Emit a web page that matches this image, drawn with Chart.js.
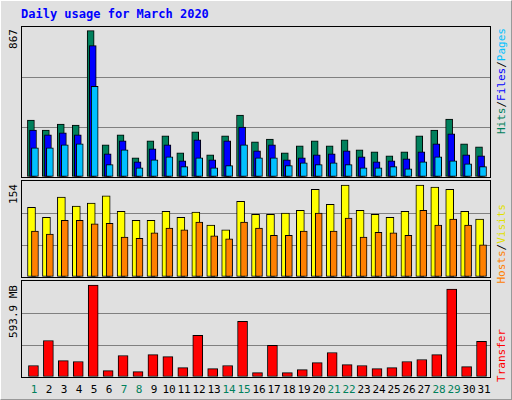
<!DOCTYPE html>
<html>
<head>
<meta charset="utf-8">
<script src="https://cdn.jsdelivr.net/npm/chart.js@4"></script>
<style>
  body { margin: 0; background: #e0e0e0; }
  #wrap { position: relative; width: 510px; height: 398px; border: 1px solid #fff; border-right-color: #999; border-bottom-color: #999; font-family: "DejaVu Sans Mono", monospace; }
  .panel { position: absolute; left: 20px; width: 470px; border: 1px solid #000; box-sizing: border-box; }
  .panel canvas { display: block; }
  .vlab { position: absolute; writing-mode: vertical-rl; transform: rotate(180deg); font-size: 11px; white-space: nowrap; }
  .xl { position: absolute; top: 382px; font-size: 11px; width: 20px; text-align: center; }
</style>
</head>
<body>
<div id="wrap">
  <div style="position:absolute;left:20px;top:6px;color:#0000ff;font-weight:bold;font-size:12px;">Daily usage for March 2020</div>
  <div class="panel" style="top:25px;height:152px;"><canvas id="c1"></canvas></div>
  <div class="panel" style="top:179px;height:98px;"><canvas id="c2"></canvas></div>
  <div class="panel" style="top:279px;height:98px;"><canvas id="c3"></canvas></div>
  <div class="vlab" style="left:6px;top:28px;">867</div>
  <div class="vlab" style="left:6px;top:183px;">154</div>
  <div class="vlab" style="left:6px;top:284px;">593.9 MB</div>
  <div class="vlab" style="left:494px;top:27px;"><span style="color:#00805c">Hits</span>/<span style="color:#0000ff">Files</span>/<span style="color:#00c0ff">Pages</span></div>
  <div class="vlab" style="left:494px;top:203px;"><span style="color:#ff8000">Hosts</span>/<span style="color:#e0e000">Visits</span></div>
  <div class="vlab" style="left:494px;top:328px;color:#ff0000;">Transfer</div>
  <div id="xlabels"></div>
</div>
<script>
const days = Array.from({ length: 31 }, (_, i) => i + 1);
const weekendDays = [1, 7, 8, 14, 15, 21, 22, 28, 29];

const hits = [337, 278, 314, 308, 867, 190, 249, 114, 214, 243, 143, 267, 131, 243, 367, 208, 225, 143, 184, 214, 184, 220, 161, 149, 125, 149, 243, 278, 343, 196, 178];
const files = [278, 249, 261, 249, 778, 137, 214, 90, 167, 190, 96, 220, 102, 214, 296, 155, 190, 102, 114, 131, 137, 155, 120, 90, 96, 108, 149, 196, 255, 131, 125];
const pages = [172, 172, 190, 196, 537, 73, 161, 55, 102, 120, 61, 114, 55, 67, 190, 114, 114, 67, 84, 73, 84, 73, 55, 55, 61, 49, 90, 120, 96, 78, 61];
const visits = [117, 100, 134, 119, 124, 136, 110, 95, 95, 110, 100, 109, 87, 79, 127, 105, 105, 107, 112, 147, 122, 154, 112, 105, 100, 110, 154, 151, 147, 110, 97];
const hosts = [77, 72, 95, 95, 89, 90, 67, 65, 74, 82, 79, 92, 69, 64, 92, 82, 70, 70, 77, 107, 77, 99, 67, 75, 74, 70, 112, 87, 97, 87, 54];
const transferMB = [74, 236, 106, 100, 594, 41, 139, 35, 145, 132, 61, 269, 54, 74, 360, 28, 204, 28, 48, 93, 158, 80, 74, 54, 61, 100, 113, 145, 568, 67, 230];

// x-axis labels
const xl = document.getElementById('xlabels');
days.forEach(d => {
  const s = document.createElement('div');
  s.className = 'xl';
  s.style.left = (33 + (d - 1) * 15 - 10) + 'px';
  s.style.color = weekendDays.includes(d) ? '#00805c' : '#000';
  s.textContent = d;
  xl.appendChild(s);
});

function series(values, shift, color, width, order) {
  return {
    data: values.map((v, i) => ({ x: days[i] + shift, y: v })),
    backgroundColor: color,
    borderColor: '#000',
    borderWidth: 1,
    borderSkipped: false,
    barThickness: width,
    grouped: false,
    order: order
  };
}

function makeChart(id, h, yMax, datasets) {
  const cv = document.getElementById(id);
  cv.width = 468; cv.height = h;
  cv.style.width = '468px'; cv.style.height = h + 'px';
  return new Chart(cv, {
    type: 'bar',
    data: { datasets },
    options: {
      responsive: false,
      animation: false,
      layout: { padding: 0 },
      plugins: { legend: { display: false }, tooltip: { enabled: false } },
      scales: {
        x: { type: 'linear', min: 1 - 13 / 15, max: 31 + 7 / 15, offset: false, grid: { offset: false }, display: false },
        y: {
          min: 0, max: yMax,
          ticks: { display: false, stepSize: yMax / 3 },
          border: { display: false },
          grid: {
            drawTicks: false,
            color: ctx => (ctx.tick.value > 0 && ctx.tick.value < yMax - 1) ? '#808080' : 'rgba(0,0,0,0)',
            lineWidth: 1
          }
        }
      }
    }
  });
}

makeChart('c1', 150, 888, [
  series(hits, -0.27, '#00805c', 7, 3),
  series(files, -0.13, '#0000ff', 7, 2),
  series(pages, 0, '#00c0ff', 7, 1)
]);
makeChart('c2', 96, 161, [
  series(visits, -0.23, '#ffff00', 8, 2),
  series(hosts, 0, '#ff8000', 7, 1)
]);
makeChart('c3', 96, 620, [
  series(transferMB, -0.1, '#ff0000', 10, 1)
]);
</script>
</body>
</html>
